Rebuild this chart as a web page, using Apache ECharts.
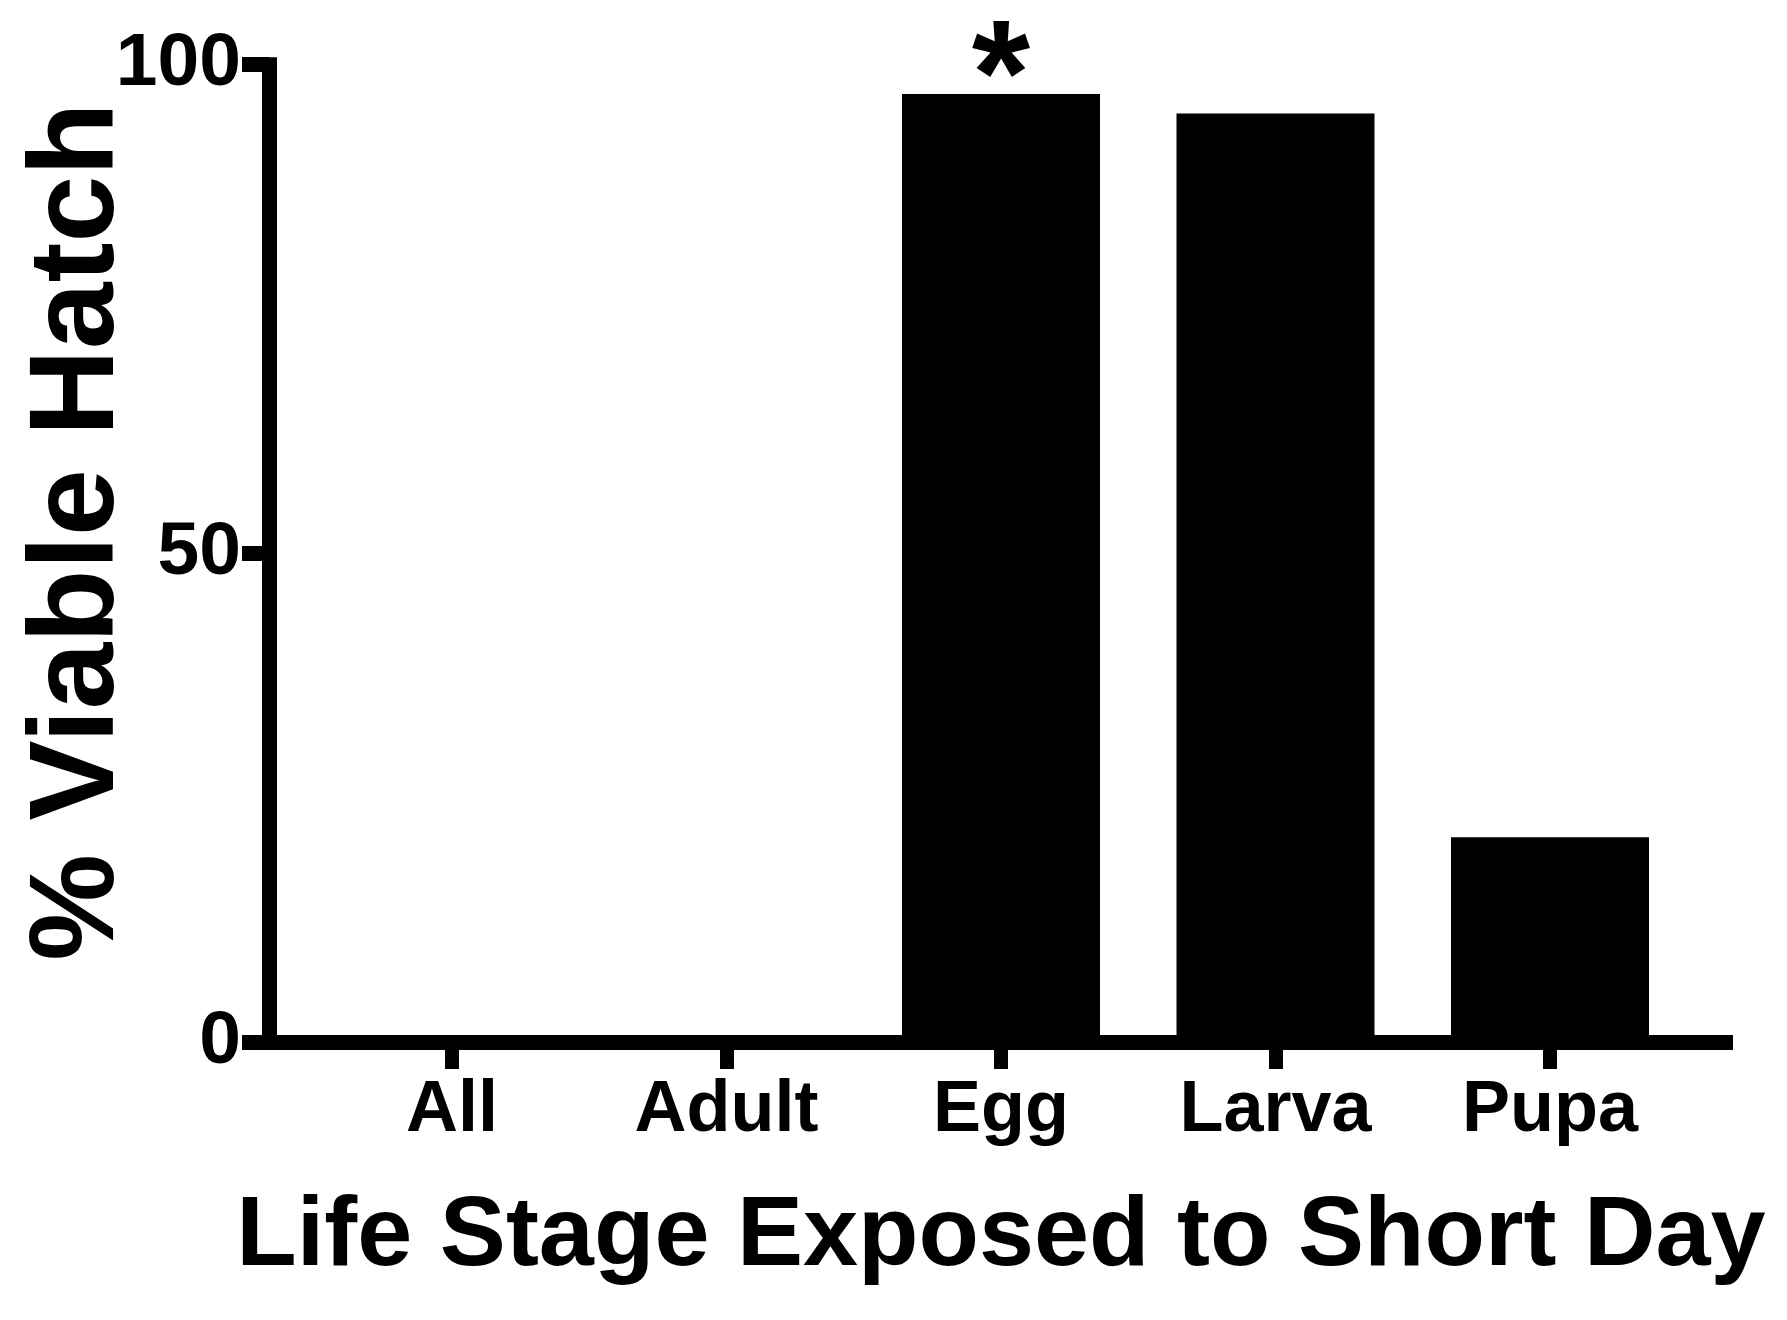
<!DOCTYPE html>
<html>
<head>
<meta charset="utf-8">
<script src="https://cdn.jsdelivr.net/npm/echarts@6.0.0/dist/echarts.min.js"></script>
<style>
html,body{margin:0;padding:0;background:#fff;}
#chart{width:1787px;height:1320px;}
</style>
</head>
<body>
<div id="chart"></div>
<script>
// ---- data ----
const categories = ['All', 'Adult', 'Egg', 'Larva', 'Pupa'];
const viableHatch = [0, 0, 97, 95, 21];
const significance = ['', '', '*', '', ''];
const yTickValues = [0, 50, 100];
const xTitle = 'Life Stage Exposed to Short Day';
const yTitle = '% Viable Hatch';

const FONT = "'Liberation Sans', Arial, Helvetica, sans-serif";
const positions = categories.map((c, i) => i);

const seriesData = categories.map((c, i) => ({
  value: [i, viableHatch[i]],
  label: significance[i] ? { show: true, formatter: significance[i] } : { show: false }
}));

const chart = echarts.init(document.getElementById('chart'), null, { renderer: 'canvas' });
chart.setOption({
  animation: false,
  backgroundColor: '#ffffff',
  grid: { left: 269, top: 64.7, width: 1464, height: 977.8, containLabel: false, outerBoundsMode: 'none' },
  xAxis: {
    type: 'value',
    min: -2 / 3,
    max: 14 / 3,
    name: xTitle,
    nameLocation: 'middle',
    nameGap: 146,
    nameMoveOverlap: false,
    nameTextStyle: { fontFamily: FONT, fontWeight: 'bold', fontSize: 99, color: '#000' },
    axisLine: { show: true, onZero: false, lineStyle: { color: '#000', width: 15, cap: 'butt' } },
    axisTick: { show: true, customValues: positions, length: 26.5, lineStyle: { color: '#000', width: 14 } },
    axisLabel: {
      show: true,
      customValues: positions,
      margin: 33,
      fontFamily: FONT, fontWeight: 'bold', fontSize: 72, color: '#000',
      formatter: v => categories[Math.round(v)] || ''
    },
    splitLine: { show: false }
  },
  yAxis: {
    type: 'value',
    min: 0,
    max: 100,
    interval: 50,
    name: yTitle,
    nameLocation: 'middle',
    nameGap: 129,
    nameMoveOverlap: false,
    nameTextStyle: { fontFamily: FONT, fontWeight: 'bold', fontSize: 120, color: '#000', padding: [0, 0, 0, 44] },
    axisLine: { show: true, onZero: false, lineStyle: { color: '#000', width: 15, cap: 'square' } },
    axisTick: { show: true, length: 27, lineStyle: { color: '#000', width: 15 } },
    axisLabel: {
      show: true,
      customValues: yTickValues,
      margin: 28,
      fontFamily: FONT, fontWeight: 'bold', fontSize: 75, color: '#000'
    },
    splitLine: { show: false }
  },
  series: [{
    type: 'bar',
    data: seriesData,
    barWidth: 198,
    itemStyle: { color: '#000' },
    label: {
      position: 'top',
      distance: -65,
      fontFamily: FONT, fontWeight: 'bold', fontSize: 150, color: '#000'
    }
  }]
});
</script>
</body>
</html>
